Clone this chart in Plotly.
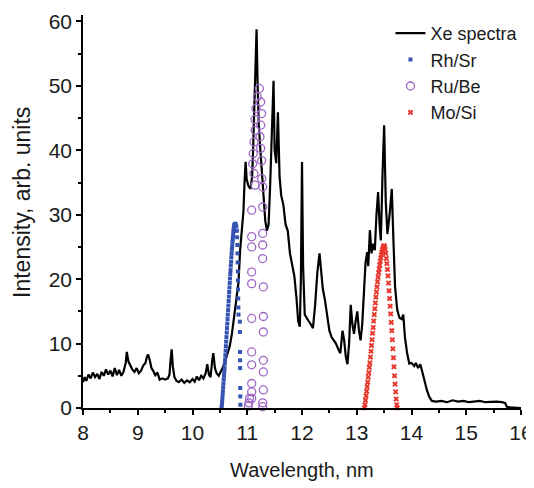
import plotly.graph_objects as go

# ---- Xe spectrum (wavelength nm, intensity) ----
xe_wl = [8.00, 8.03, 8.06, 8.10, 8.14, 8.18, 8.22, 8.26, 8.30, 8.34, 8.38, 8.42, 8.46, 8.50,
         8.54, 8.58, 8.62, 8.66, 8.70, 8.74, 8.78, 8.80, 8.83, 8.86, 8.90, 8.94, 8.98, 9.02,
         9.06, 9.10, 9.14, 9.17, 9.19, 9.22, 9.25, 9.28, 9.32, 9.36, 9.40, 9.45, 9.50, 9.55,
         9.58, 9.60, 9.62, 9.64, 9.67, 9.71, 9.75, 9.80, 9.85, 9.90, 9.95, 10.00, 10.04, 10.08,
         10.12, 10.16, 10.20, 10.24, 10.27, 10.30, 10.33, 10.36, 10.38, 10.41, 10.44, 10.48,
         10.52, 10.56, 10.60, 10.64, 10.68, 10.72, 10.76, 10.80, 10.84, 10.87, 10.90, 10.93,
         10.95, 10.97, 10.99, 11.02, 11.06, 11.09, 11.11, 11.13, 11.15, 11.17, 11.19, 11.21,
         11.24, 11.27, 11.30, 11.33, 11.36, 11.39, 11.42, 11.45, 11.48, 11.50, 11.53, 11.56,
         11.59, 11.62, 11.66, 11.70, 11.74, 11.78, 11.82, 11.86, 11.90, 11.93, 11.96, 11.98,
         12.00, 12.02, 12.05, 12.08, 12.12, 12.16, 12.20, 12.24, 12.28, 12.32, 12.35, 12.38,
         12.42, 12.46, 12.50, 12.54, 12.58, 12.62, 12.66, 12.70, 12.74, 12.77, 12.80, 12.83,
         12.86, 12.89, 12.92, 12.95, 12.98, 13.01, 13.04, 13.07, 13.10, 13.13, 13.16, 13.19,
         13.21, 13.24, 13.27, 13.30, 13.33, 13.36, 13.39, 13.42, 13.44, 13.47, 13.50, 13.53,
         13.56, 13.60, 13.64, 13.67, 13.70, 13.74, 13.78, 13.82, 13.85, 13.88, 13.92, 13.96,
         14.00, 14.05, 14.08, 14.12, 14.16, 14.20, 14.24, 14.28, 14.32, 14.37, 14.45, 14.55,
         14.65, 14.75, 14.85, 14.95, 15.05, 15.15, 15.25, 15.35, 15.45, 15.55, 15.65, 15.71,
         15.74, 15.80, 16.00]
xe_int = [4.0, 4.8, 4.2, 5.2, 4.6, 5.5, 4.8, 5.3, 4.5, 5.6, 5.0, 6.0, 5.2, 5.8,
          4.9, 6.2, 5.1, 5.9, 5.0, 5.6, 7.0, 8.7, 7.2, 6.6, 6.0, 5.6, 6.2, 5.4,
          5.8, 6.6, 7.0, 8.0, 8.3, 7.4, 6.2, 5.8, 5.1, 5.5, 4.4, 4.6, 4.4, 4.6,
          5.2, 7.5, 9.1, 6.5, 4.8, 4.2, 4.0, 4.4, 3.9, 4.3, 4.0, 4.5, 4.1, 4.9,
          4.3, 5.0, 4.6, 5.4, 6.8, 5.2, 4.8, 7.4, 8.5, 6.2, 5.4, 5.0,
          5.6, 6.4, 7.4, 8.4, 9.6, 11.5, 14.5, 17.5, 19.5, 24.5, 27.5, 30.5,
          35.0, 38.2, 35.5, 34.5, 34.0, 36.0, 41.0, 47.0, 54.0, 58.8, 50.0, 44.0,
          40.0, 36.0, 32.0, 29.0, 27.5, 28.5, 35.0, 42.0, 50.8, 40.0, 38.0, 45.9,
          36.0, 33.0, 31.5, 28.5, 27.5, 24.0, 22.0, 20.5, 17.0, 13.5, 12.6, 20.0,
          38.2, 22.0, 14.5, 14.0, 13.5, 13.0, 12.4, 16.0, 21.0, 24.0, 21.5, 18.5,
          16.7, 14.5, 12.0, 11.0, 10.5, 10.0, 9.2, 8.5, 12.0, 10.5, 8.0, 6.8,
          10.0, 16.0, 13.0, 11.5, 13.5, 15.0, 12.0, 10.5, 13.0, 17.0, 22.5, 24.2,
          22.0, 27.6, 24.0, 25.5, 24.5, 30.0, 33.5, 28.0, 26.0, 36.0, 43.9, 32.0,
          27.0, 30.0, 34.0, 26.0, 18.8, 15.2, 14.0, 13.8, 14.5, 11.0, 8.5, 6.9,
          7.0, 6.5, 7.0, 6.2, 6.8, 5.5, 4.0, 2.8, 1.8, 1.1, 1.0, 1.1,
          0.9, 1.2, 1.0, 1.1, 0.9, 1.0, 1.1, 0.9, 1.0, 1.0, 0.9, 0.8,
          0.2, 0.1, 0.0]

# ---- Rh/Sr reflectivity ----
rh_wl = [10.53, 10.535, 10.54, 10.545, 10.55, 10.555, 10.56, 10.565, 10.57, 10.575, 10.58,
         10.585, 10.59, 10.595, 10.60, 10.605, 10.61, 10.615, 10.62, 10.625, 10.63, 10.635,
         10.64, 10.645, 10.65, 10.655, 10.66, 10.665, 10.67, 10.675, 10.68, 10.685, 10.69,
         10.695, 10.70, 10.705, 10.71, 10.715, 10.72, 10.725, 10.73, 10.735, 10.74, 10.745,
         10.75, 10.755, 10.76, 10.765, 10.77, 10.78, 10.79, 10.80, 10.81, 10.815, 10.82,
         10.822, 10.825, 10.828, 10.83, 10.832, 10.835, 10.838, 10.84, 10.865, 10.866,
         10.868, 10.869, 10.87, 10.872, 10.873, 10.875]
rh_int = [0.0, 0.4, 0.8, 1.4, 2.0, 2.6, 3.2, 3.8, 4.4, 5.0, 5.6,
          6.2, 6.9, 7.5, 8.2, 8.9, 9.6, 10.3, 11.0, 11.7, 12.4, 13.1,
          13.8, 14.5, 15.2, 15.9, 16.6, 17.3, 18.0, 18.7, 19.4, 20.1, 20.8,
          21.4, 22.1, 22.7, 23.4, 24.0, 24.6, 25.1, 25.7, 26.2, 26.7, 27.2,
          27.6, 27.9, 28.2, 28.4, 28.5, 28.6, 28.5, 28.2, 27.5, 26.5, 25.3,
          24.0, 22.6, 21.2, 19.8, 18.4, 17.0, 15.6, 14.5, 13.4, 11.8,
          8.7, 7.4, 6.2, 3.1, 1.8, 0.5]

# ---- Ru/Be reflectivity ----
ru_wl = [11.02, 11.03, 11.04, 11.081, 11.081, 11.081, 11.081, 11.081, 11.081, 11.081, 11.081,
         11.081, 11.081, 11.081, 11.142, 11.123, 11.099, 11.11, 11.123, 11.142, 11.142, 11.160,
         11.184, 11.221, 11.245, 11.263, 11.245, 11.233, 11.245, 11.263, 11.263, 11.282,
         11.282, 11.282, 11.282, 11.282, 11.294, 11.294, 11.294, 11.294, 11.294, 11.294,
         11.282, 11.282]
ru_int = [0.3, 0.8, 1.5, 1.5, 2.5, 3.8, 6.7, 8.7, 13.9, 19.3, 21.1, 25.0,
          26.6, 30.7, 34.6, 36.4, 37.9, 39.5, 41.3, 43.1, 44.8, 46.5,
          48.3, 49.6, 47.5, 45.7, 43.9, 42.1, 40.3, 38.4, 35.6, 34.3,
          31.2, 27.1, 25.3, 23.2, 18.8, 14.2, 11.8, 7.4, 5.6, 2.8,
          0.8, 0.2]

# ---- Mo/Si reflectivity ----
mo_wl = [13.14, 13.15, 13.16, 13.17, 13.18, 13.19, 13.20, 13.21, 13.22, 13.23, 13.24, 13.25,
         13.26, 13.27, 13.28, 13.29, 13.30, 13.31, 13.32, 13.33, 13.34, 13.35, 13.36, 13.37,
         13.38, 13.39, 13.40, 13.41, 13.42, 13.43, 13.44, 13.45, 13.46, 13.47, 13.48, 13.49,
         13.50, 13.51, 13.52, 13.53, 13.54, 13.55, 13.56, 13.57, 13.58, 13.59, 13.60, 13.61,
         13.62, 13.63, 13.64, 13.65, 13.66, 13.67, 13.68, 13.69, 13.70, 13.71, 13.72, 13.73,
         13.74]
mo_int = [0.0, 0.5, 1.2, 1.9, 2.6, 3.3, 4.0, 4.8, 5.5, 6.3, 7.0, 7.9,
          8.8, 9.7, 10.6, 11.6, 12.5, 13.5, 14.5, 15.4, 16.3, 17.2, 18.0, 18.8,
          19.6, 20.3, 21.0, 21.6, 22.2, 22.8, 23.3, 23.8, 24.2, 24.6, 24.9, 25.1,
          25.2, 25.0, 24.6, 24.0, 23.2, 22.4, 21.5, 20.5, 19.4, 18.2, 17.0, 15.8,
          14.6, 13.3, 12.0, 10.6, 9.2, 7.8, 6.4, 5.0, 3.7, 2.5, 1.4, 0.5,
          0.0]

x_ticks = [8, 9, 10, 11, 12, 13, 14, 15, 16]
y_ticks = [0, 10, 20, 30, 40, 50, 60]
x_title = "Wavelength, nm"
y_title = "Intensity, arb. units"

FONT = "Liberation Sans, Arial, sans-serif"

fig = go.Figure()
fig.add_trace(go.Scatter(x=xe_wl, y=xe_int, mode="lines", name="Xe spectra",
                         line=dict(color="black", width=2.2), cliponaxis=False))
fig.add_trace(go.Scatter(x=rh_wl, y=rh_int, mode="markers", name="Rh/Sr",
                         marker=dict(symbol="square", size=4, color="#3553b3"),
                         cliponaxis=False))
fig.add_trace(go.Scatter(x=ru_wl, y=ru_int, mode="markers", name="Ru/Be",
                         marker=dict(symbol="circle-open", size=8, color="#9d66c4",
                                     line=dict(width=1.3)),
                         cliponaxis=False))
fig.add_trace(go.Scatter(x=mo_wl, y=mo_int, mode="markers", name="Mo/Si",
                         marker=dict(symbol="x", size=5, color="#e8372c",
                                     line=dict(width=0)),
                         cliponaxis=False))

axis_common = dict(showline=True, linecolor="black", linewidth=1.5, ticks="outside",
                   ticklen=5, tickwidth=1.5, tickcolor="black", showgrid=False,
                   zeroline=False, mirror=False, automargin=False,
                   tickfont=dict(family=FONT, size=21, color="#1a1a1a"))

fig.update_layout(
    width=526, height=480,
    margin=dict(l=75, r=13, t=7, b=80),
    paper_bgcolor="white", plot_bgcolor="white",
    font=dict(family=FONT, color="#1a1a1a"),
    xaxis=dict(range=[8, 16], tickvals=x_ticks, ticktext=[str(v) for v in x_ticks],
               minor=dict(ticks="outside", ticklen=3, tickwidth=1.5, tickcolor="black",
                          dtick=0.5, showgrid=False),
               **axis_common),
    yaxis=dict(range=[0, 61], tickvals=y_ticks, ticktext=[str(v) for v in y_ticks],
               minor=dict(ticks="outside", ticklen=3, tickwidth=1.5, tickcolor="black",
                          tickvals=[5, 15, 25, 35, 45, 55], showgrid=False),
               **axis_common),
    legend=dict(x=0.702, y=1.0, xanchor="left", yanchor="top",
                bgcolor="rgba(0,0,0,0)", font=dict(family=FONT, size=18),
                tracegroupgap=0, itemwidth=30),
    showlegend=True,
    annotations=[
        dict(text=x_title, xref="paper", yref="paper", x=0.5, y=-0.158,
             xanchor="center", yanchor="middle", showarrow=False,
             font=dict(family=FONT, size=20, color="#1a1a1a")),
        dict(text=y_title, xref="paper", yref="paper", x=-0.139, y=0.522,
             xanchor="center", yanchor="middle", showarrow=False, textangle=-90,
             font=dict(family=FONT, size=23, color="#1a1a1a")),
    ],
)

fig.write_html("out.html")
